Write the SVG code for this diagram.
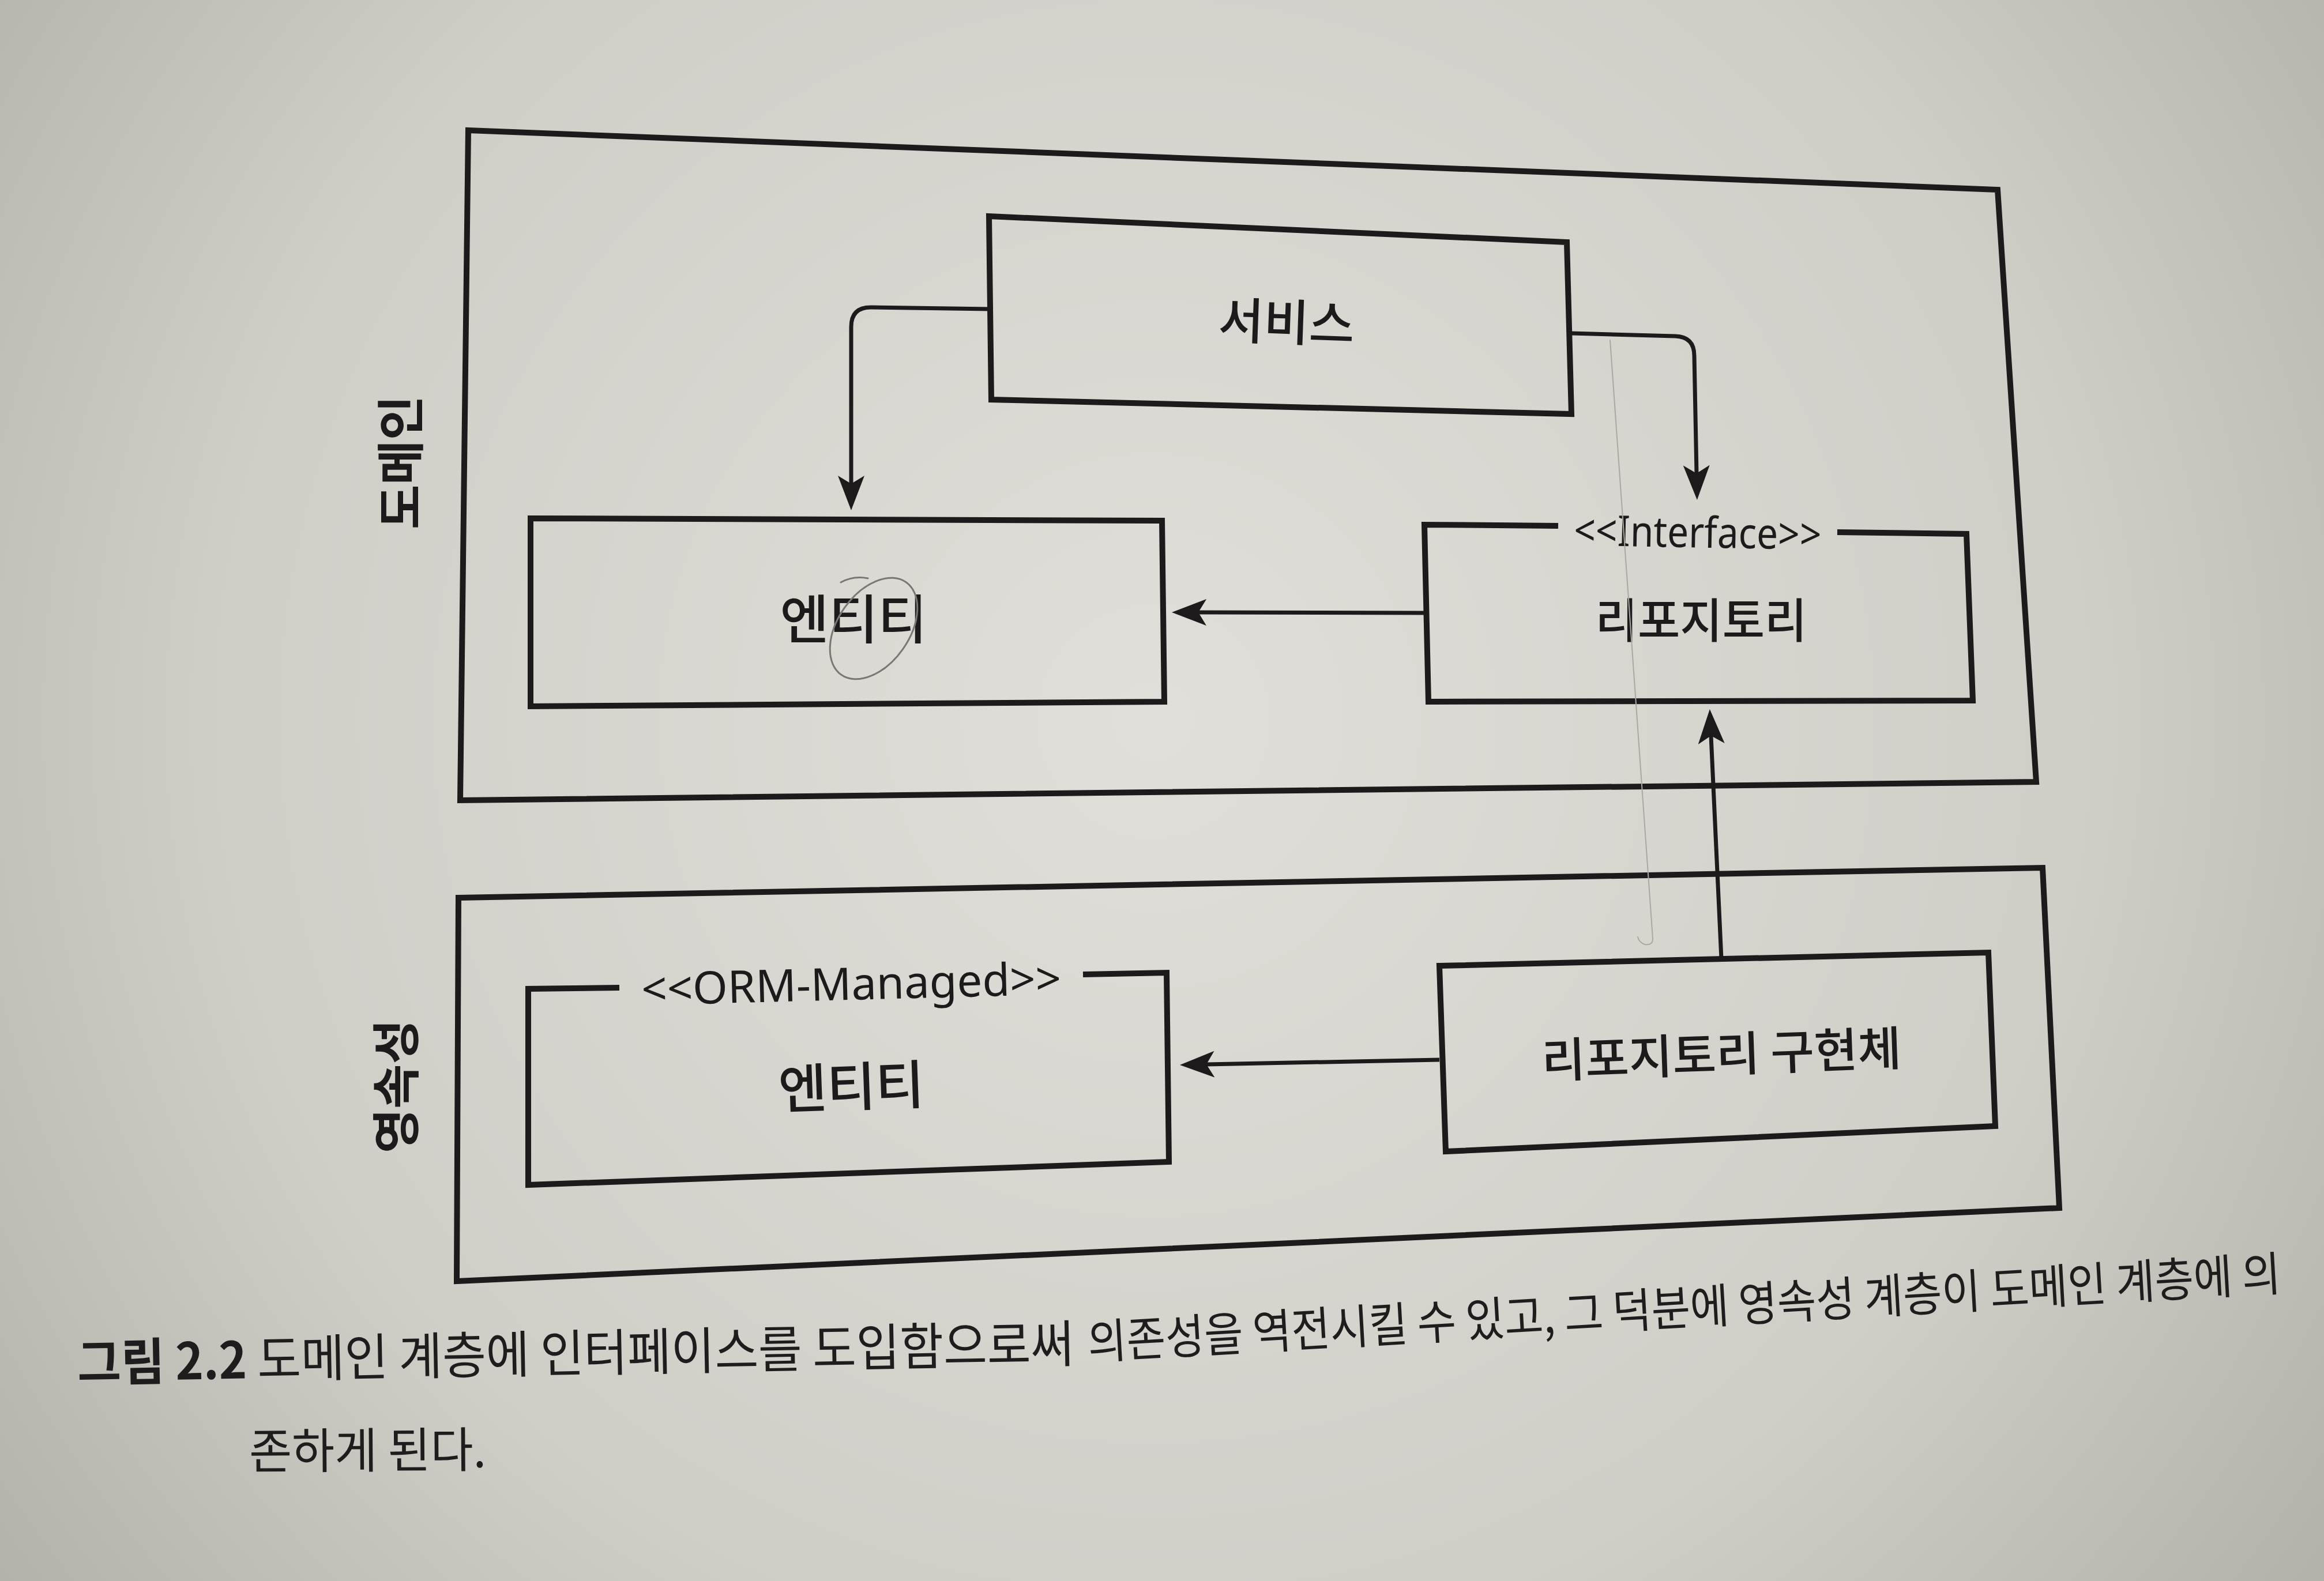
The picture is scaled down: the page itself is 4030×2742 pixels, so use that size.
<svg xmlns="http://www.w3.org/2000/svg" width="4030" height="2742" viewBox="0 0 4030 2742">
<style>
.box{fill:none;stroke:#1c1a1a;stroke-width:10;stroke-linejoin:miter}
.con{fill:none;stroke:#1c1a1a;stroke-width:7}
.lbl{font-family:"Noto Sans CJK KR","Noto Sans",sans-serif;font-size:84px;font-weight:500;fill:#1c1a1a;text-anchor:middle;dominant-baseline:central}
.ster{font-family:"Noto Sans","Noto Sans CJK KR",sans-serif;font-size:74px;font-weight:400;fill:#1c1a1a;text-anchor:middle;dominant-baseline:central}
.side{font-family:"Noto Sans CJK KR",sans-serif;font-size:84px;font-weight:700;fill:#1c1a1a;text-anchor:middle;dominant-baseline:central}
.cap{font-family:"Noto Sans CJK KR",sans-serif;font-size:84px;font-weight:400;fill:#1e1c1c;dominant-baseline:central}
.pencil{fill:none;stroke:#7a7874;stroke-width:3;stroke-linecap:round}
</style>
<defs>
<radialGradient id="bg" cx="2000" cy="1250" r="2700" gradientUnits="userSpaceOnUse">
<stop offset="0" stop-color="#e1dfd9"/>
<stop offset="0.6" stop-color="#d0cec7"/>
<stop offset="1" stop-color="#adaba4"/>
</radialGradient>
<marker id="ah" markerUnits="userSpaceOnUse" viewBox="0 0 60 46" markerWidth="60" markerHeight="46" refX="14" refY="23" orient="auto">
<path d="M0,0 L60,23 L0,46 L14,23 Z" fill="#1c1a1a"/>
</marker>
</defs>
<rect x="0" y="0" width="4030" height="2742" fill="url(#bg)"/>

<g id="layer-domain">
<polygon class="box" points="812,226 3464,329 3531,1356 798,1388"/>
<text class="side" transform="translate(689,802) rotate(-90)">도메인</text>
</g>
<g id="layer-persistence">
<polygon class="box" points="795,1557 3542,1505 3571,2095 792,2222"/>
<text class="side" transform="translate(681,1884) rotate(-90)">영속성</text>
</g>

<g id="node-service">
<polygon class="box" points="1715,375 2717,420 2725,718 1719,693"/>
<text class="lbl" transform="translate(2231,553) rotate(2)" style="font-size:86px" textLength="236" lengthAdjust="spacingAndGlyphs">서비스</text>
</g>
<g id="node-entity">
<polygon class="box" points="920,899 2015,903 2019,1217 920,1225"/>
<text class="lbl" x="1480" y="1067" style="font-size:92px" textLength="255" lengthAdjust="spacingAndGlyphs">엔티티</text>
</g>
<g id="node-repository">
<path class="box" d="M2702,912 L2470,910 L2477,1217 L3421,1215 L3410,926 L3186,923"/>
<text class="ster" transform="translate(2944,921) rotate(1)" textLength="429" lengthAdjust="spacingAndGlyphs">&lt;&lt;Interface&gt;&gt;</text>
<text class="lbl" x="2950" y="1070" style="font-size:82px" textLength="367" lengthAdjust="spacingAndGlyphs">리포지토리</text>
</g>
<g id="node-orm-entity">
<path class="box" d="M1074,1713 L916,1715 L916,2055 L2027,2015 L2023,1687 L1878,1690"/>
<text class="ster" transform="translate(1476,1704) rotate(-1.5)" style="font-size:78px" textLength="728" lengthAdjust="spacingAndGlyphs">&lt;&lt;ORM-Managed&gt;&gt;</text>
<text class="lbl" transform="translate(1476,1878) rotate(-2)" style="font-size:92px" textLength="253" lengthAdjust="spacingAndGlyphs">엔티티</text>
</g>
<g id="node-repository-impl">
<polygon class="box" points="2496,1675 3448,1652 3460,1953 2507,1997"/>
<text class="lbl" transform="translate(2985,1823) rotate(-2)" style="font-size:82px" textLength="624" lengthAdjust="spacingAndGlyphs">리포지토리 구현체</text>
</g>

<g id="connectors">
<path class="con" marker-end="url(#ah)" d="M1717,536 L1510,533 Q1476,533 1476,567 L1476,839"/>
<path class="con" marker-end="url(#ah)" d="M2725,578 L2905,583 Q2938,584 2938,617 L2942,821"/>
<path class="con" marker-end="url(#ah)" d="M2470,1063 L2078,1062"/>
<path class="con" marker-end="url(#ah)" d="M2985,1663 L2967,1276"/>
<path class="con" marker-end="url(#ah)" d="M2496,1838 L2092,1846"/>
</g>

<g id="pencil-marks">
<ellipse class="pencil" cx="1515" cy="1090" rx="62" ry="98" transform="rotate(35 1515 1090)"/>
<path class="pencil" d="M1458,1010 Q1480,998 1505,1003"/>
<path class="pencil" style="stroke-width:2;stroke:#aaa8a3" d="M2792,590 L2866,1628 Q2866,1640 2852,1638 Q2842,1634 2840,1625"/>
</g>

<g id="caption">
<text class="cap" transform="translate(134,2357) rotate(-1.1)" style="font-size:88px" textLength="1729" lengthAdjust="spacingAndGlyphs"><tspan font-weight="700">그림 2.2</tspan> 도메인 계층에 인터페이스를 도입함으로써</text>
<text class="cap" transform="translate(1886,2322) rotate(-3.3)" style="font-size:82px" textLength="2072" lengthAdjust="spacingAndGlyphs">의존성을 역전시킬 수 있고, 그 덕분에 영속성 계층이 도메인 계층에 의</text>
<text class="cap" transform="translate(432,2511) rotate(-0.4)" textLength="411" lengthAdjust="spacingAndGlyphs">존하게 된다.</text>
</g>
</svg>
